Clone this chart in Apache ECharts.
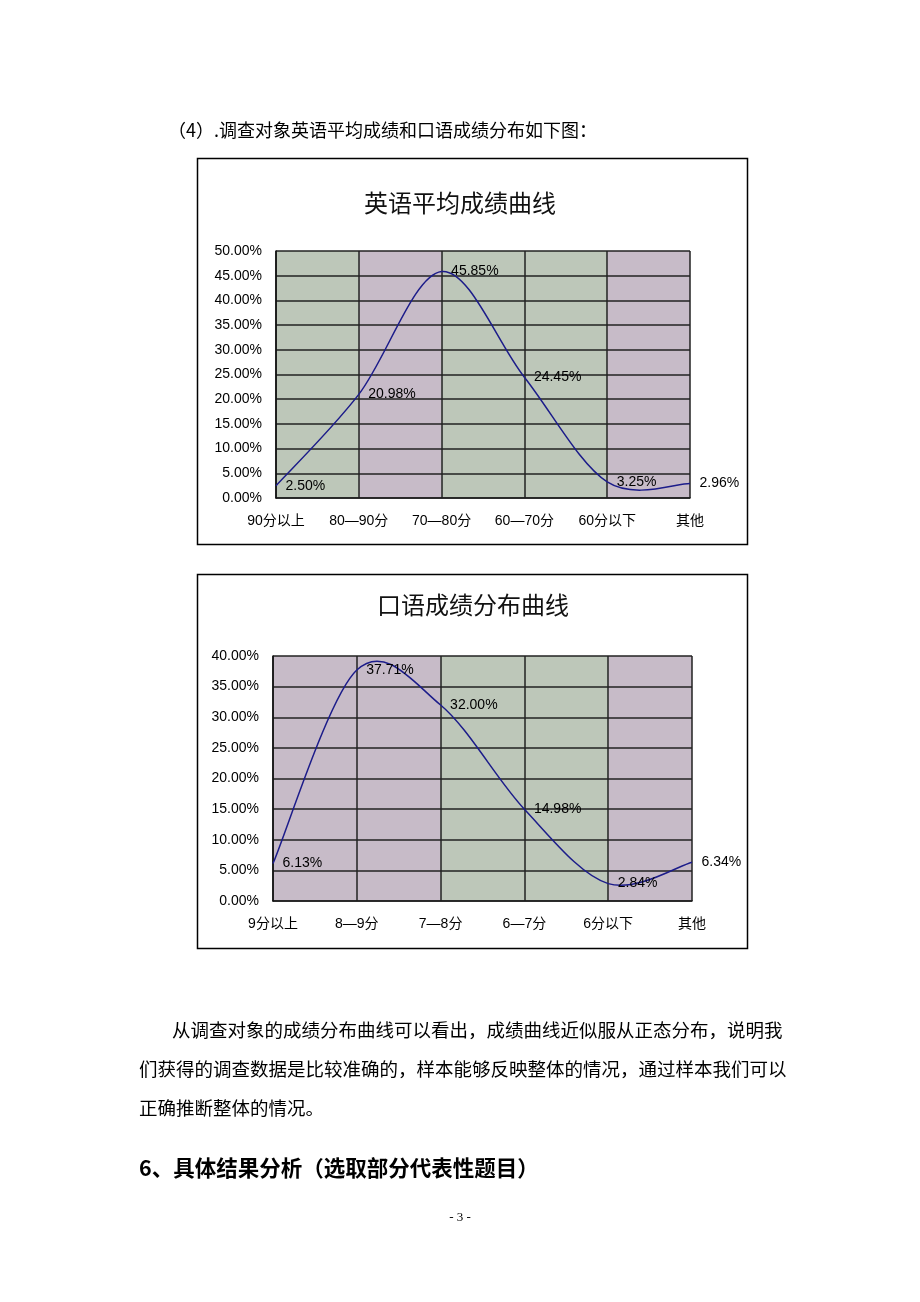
<!DOCTYPE html>
<html><head><meta charset="utf-8">
<script src="https://cdn.jsdelivr.net/npm/echarts@6/dist/echarts.min.js"></script>
<style>html,body{margin:0;padding:0;background:#fff;}#c{width:920px;height:1302px;}</style>
</head><body><div id="c"></div>
<script>
const titleEng = '英语平均成绩曲线';
const catsEng = ['90分以上', '80—90分', '70—80分', '60—70分', '60分以下', '其他'];
const valsEng = [2.50, 20.98, 45.85, 24.45, 3.25, 2.96];
const ticksEng = {min: 0, max: 50, interval: 5};

const titleOral = '口语成绩分布曲线';
const catsOral = ['9分以上', '8—9分', '7—8分', '6—7分', '6分以下', '其他'];
const valsOral = [6.13, 37.71, 32.00, 14.98, 2.84, 6.34];
const ticksOral = {min: 0, max: 40, interval: 5};

const heading = '（4）.调查对象英语平均成绩和口语成绩分布如下图：';
const paraLines = [
  '从调查对象的成绩分布曲线可以看出，成绩曲线近似服从正态分布，说明我',
  '们获得的调查数据是比较准确的，样本能够反映整体的情况，通过样本我们可以',
  '正确推断整体的情况。'
];
const section = '6、具体结果分析（选取部分代表性题目）';
const pageNo = '- 3 -';

const CJK = '"Noto Sans CJK SC", sans-serif';
const LAT = '"Liberation Sans", Arial, "Noto Sans CJK SC", sans-serif';
const G = '#bdc7b9', P = '#c7bbc8';
const LINE = '#1c1c8a';

function axes(i, cats, ticks, areaColors) {
  return {
    x: {
      type: 'category', gridIndex: i, data: cats, boundaryGap: false, z: 0,
      axisLine: {lineStyle: {color: '#111', width: 1.5}},
      axisTick: {show: false},
      axisLabel: {color: '#000', fontSize: 14, fontFamily: LAT, margin: 16},
      splitLine: {show: true, lineStyle: {color: '#222', width: 1.5}},
      splitArea: {show: true, areaStyle: {color: areaColors}}
    },
    y: {
      type: 'value', gridIndex: i, min: ticks.min, max: ticks.max, interval: ticks.interval, z: 1,
      axisLine: {show: true, lineStyle: {color: '#111', width: 1.5}},
      axisTick: {show: false},
      axisLabel: {color: '#000', fontSize: 14, fontFamily: LAT, margin: 14,
        formatter: v => v.toFixed(2) + '%'},
      splitLine: {show: true, lineStyle: {color: '#222', width: 1.5}}
    }
  };
}
const a1 = axes(0, catsEng, ticksEng, [G, P, G, G, P]);
const a2 = axes(1, catsOral, ticksOral, [P, P, G, G, P]);

// Smoothed curve (Catmull-Rom style, like a spreadsheet's smoothed line) drawn via axis coordinates
function curveSeries(i, vals) {
  return {
    type: 'custom', xAxisIndex: i, yAxisIndex: i, z: 3, silent: true,
    data: vals.map((v, k) => [k, v]),
    renderItem: function (params, api) {
      if (params.dataIndex !== 0) return null;
      const p = vals.map((v, k) => api.coord([k, v]));
      const n = p.length, kids = [];
      for (let k = 0; k < n - 1; k++) {
        const p0 = p[Math.max(k - 1, 0)], p1 = p[k], p2 = p[k + 1], p3 = p[Math.min(k + 2, n - 1)];
        kids.push({
          type: 'bezierCurve',
          shape: {
            x1: p1[0], y1: p1[1], x2: p2[0], y2: p2[1],
            cpx1: p1[0] + (p2[0] - p0[0]) / 6, cpy1: p1[1] + (p2[1] - p0[1]) / 6,
            cpx2: p2[0] - (p3[0] - p1[0]) / 6, cpy2: p2[1] - (p3[1] - p1[1]) / 6
          },
          style: {stroke: LINE, lineWidth: 1.5, fill: null}
        });
      }
      return {type: 'group', children: kids};
    }
  };
}

function labelSeries(i, vals) {
  return {
    type: 'line', xAxisIndex: i, yAxisIndex: i, data: vals, z: 4, silent: true,
    symbol: 'circle', symbolSize: 1, showSymbol: true,
    itemStyle: {color: 'rgba(0,0,0,0)'},
    lineStyle: {width: 0, color: 'rgba(0,0,0,0)'},
    labelLayout: {hideOverlap: false},
    label: {show: true, position: 'right', distance: 9, color: '#000', fontSize: 14,
      fontFamily: LAT, formatter: p => p.value.toFixed(2) + '%'}
  };
}

const graphic = [
  {type: 'rect', shape: {x: 197.5, y: 158.5, width: 550, height: 386}, style: {fill: 'none', stroke: '#000', lineWidth: 1.5}},
  {type: 'rect', shape: {x: 197.5, y: 574.5, width: 550, height: 374}, style: {fill: 'none', stroke: '#000', lineWidth: 1.5}},
  {type: 'text', x: 460, y: 203, style: {text: titleEng, font: '24px ' + CJK, fill: '#111', textAlign: 'center', textVerticalAlign: 'middle'}},
  {type: 'text', x: 473, y: 605, style: {text: titleOral, font: '24px ' + CJK, fill: '#111', textAlign: 'center', textVerticalAlign: 'middle'}},
  {type: 'text', x: 168, y: 130, style: {text: heading, font: '18px ' + CJK, fill: '#000', textVerticalAlign: 'middle'}},
  {type: 'text', x: 172, y: 1030, style: {text: paraLines[0], font: '18.5px ' + CJK, fill: '#000', textVerticalAlign: 'middle'}},
  {type: 'text', x: 139, y: 1069, style: {text: paraLines[1], font: '18.5px ' + CJK, fill: '#000', textVerticalAlign: 'middle'}},
  {type: 'text', x: 139, y: 1108, style: {text: paraLines[2], font: '18.5px ' + CJK, fill: '#000', textVerticalAlign: 'middle'}},
  {type: 'text', x: 139, y: 1168, style: {text: section, font: 'bold 21.5px ' + CJK, fill: '#000', textVerticalAlign: 'middle'}},
  {type: 'text', x: 460, y: 1218, style: {text: pageNo, font: '13px "Liberation Serif", serif', fill: '#000', textAlign: 'center', textVerticalAlign: 'middle'}}
];

const chart = echarts.init(document.getElementById('c'), null, {renderer: 'canvas'});
chart.setOption({
  animation: false,
  backgroundColor: '#fff',
  grid: [
    {left: 276, top: 251, width: 414, height: 247},
    {left: 273, top: 656, width: 419, height: 245}
  ],
  xAxis: [a1.x, a2.x],
  yAxis: [a1.y, a2.y],
  series: [curveSeries(0, valsEng), curveSeries(1, valsOral), labelSeries(0, valsEng), labelSeries(1, valsOral)],
  graphic: graphic
});
</script></body></html>
